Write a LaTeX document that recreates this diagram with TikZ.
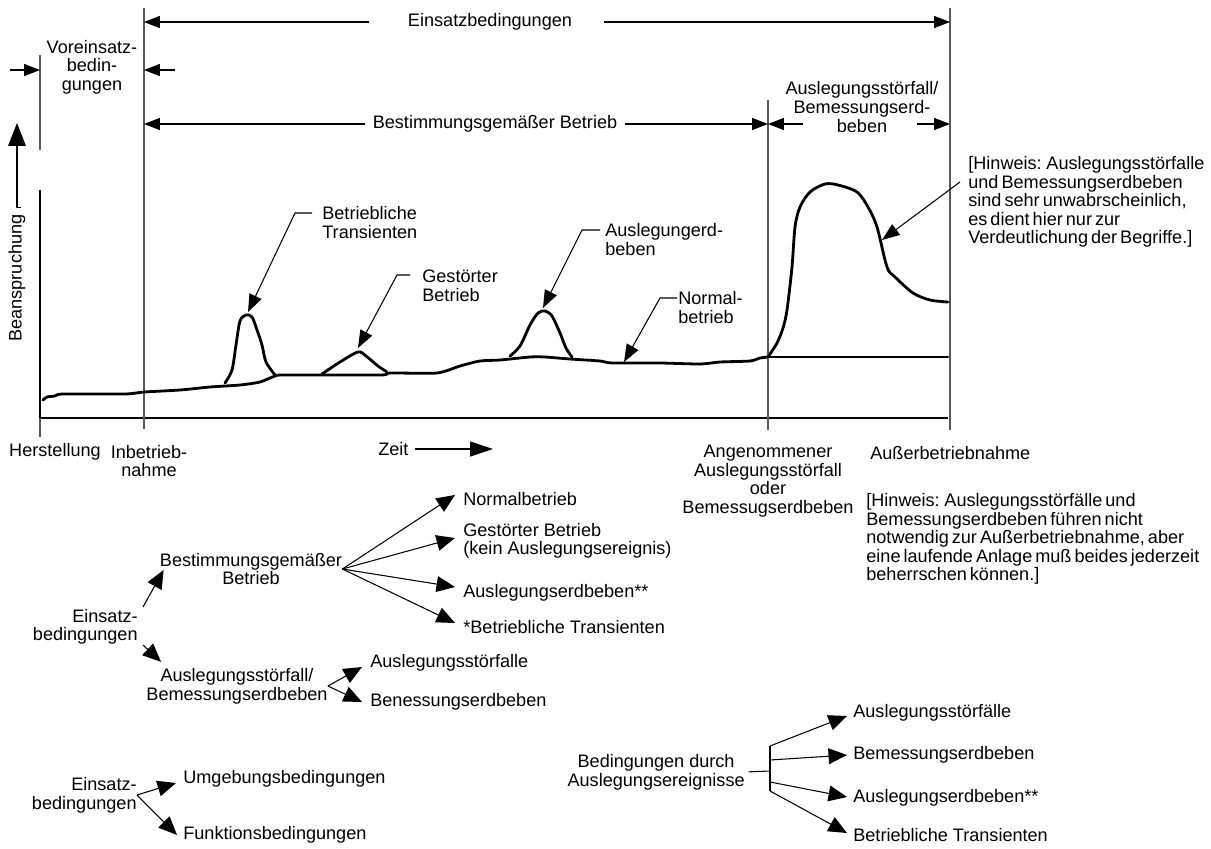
\documentclass[tikz,border=0pt]{standalone}
\usepackage{fontspec}
\setmainfont{Liberation Sans}
\newfontfamily\notefont[WordSpace=0.6]{Liberation Sans}
\usetikzlibrary{arrows.meta}

\tikzset{
  lbl/.style={inner sep=0pt, font=\fontsize{10.3}{10.6}\selectfont},
  note/.style={lbl, align=left, anchor=north west, font=\notefont\fontsize{10.3}{10.6}\selectfont},
  guide/.style={line width=0.8pt, draw=black!65},
  thinline/.style={line width=0.6pt},
  curve/.style={line width=1.6pt, line join=round, line cap=round},
  baseaxis/.style={line width=1.6pt},
  dimtip/.style={thinline, -{Triangle[length=9pt,width=6.8pt]}},
  leadtip/.style={thinline, -{Triangle[length=10pt,width=7.5pt]}},
  bigtip/.style={thinline, -{Triangle[length=10.5pt,width=9pt]}},
  zeittip/.style={thinline, -{Triangle[length=13pt,width=8.5pt]}},
  yatip/.style={thinline, -{Triangle[length=13pt,width=10pt]}},
}

\begin{document}
\begin{tikzpicture}[x=0.02cm,y=-0.02cm]
\path[use as bounding box] (0,0) rectangle (1211,849);

% axes and time marks
\draw[baseaxis] (40,190) -- (40,418) -- (948,418);
\draw[guide] (40,418) -- (40,437);
\draw[guide] (40,55) -- (40,150);
\draw[guide] (144,8) -- (144,429);
\draw[guide] (768,100) -- (768,430);
\draw[guide] (950,8) -- (950,430);

% stress history
\draw[curve] plot[smooth,tension=0.4] coordinates {(43,400) (47,397) (55,396) (63,394) (125,394)
  (144,392) (180,390) (210,387) (240,385) (260,382) (275,376) (285,375) (380,375) (390,373)
  (437,373) (460,366) (480,361) (500,360) (530,357) (545,357) (570,359) (600,361) (612,363)
  (660,363) (700,364) (720,362) (750,361) (760,358) (768,357)};
\draw[curve] (768,357) -- (948,357);
\draw[curve] plot[smooth,tension=0.5] coordinates {(225,383) (232,370) (236,345) (240,321)
  (246,315) (252,317) (257,330) (262,345) (266,362) (275,375)};
\draw[curve] plot[smooth,tension=0.5] coordinates {(322,374) (340,362) (358,352) (366,356)
  (378,366) (387,372)};
\draw[curve] plot[smooth,tension=0.5] coordinates {(510,356) (520,346) (530,325) (538,313)
  (545,311) (552,316) (560,333) (566,348) (572,357)};
\draw[curve] plot[smooth,tension=0.5] coordinates {(768,357) (777,343) (783,328) (787,310)
  (792,267) (795,227) (800,207) (810,192) (825,184) (838,185) (857,192) (868,207) (877,227)
  (887,267) (895,277) (913,293) (930,300) (948,302)};

% periods
\node[lbl] (tEin) at (490,22) {Einsatzbedingungen};
\coordinate (e1) at (144,22);
\coordinate (e2) at (950,22);
\draw[dimtip, shorten <=22pt] (tEin) -- (e1);
\draw[dimtip, shorten <=18pt] (tEin) -- (e2);

\node[lbl, align=center] (tVor) at (92,67) {Voreinsatz-\\bedin-\\gungen};
\coordinate (v1) at (10,70);
\coordinate (v2) at (40,70);
\coordinate (v3) at (175,70);
\coordinate (v4) at (144,70);
\draw[dimtip] (v1) -- (v2);
\draw[dimtip] (v3) -- (v4);

\node[lbl] (tBest) at (495,124) {Bestimmungsgemäßer Betrieb};
\coordinate (b1) at (144,124);
\coordinate (b2) at (768,124);
\coordinate (b3) at (803,124);
\coordinate (b4) at (917,124);
\coordinate (b5) at (950,124);
\draw[dimtip, shorten <=4pt] (tBest) -- (b1);
\draw[dimtip, shorten <=4pt] (tBest) -- (b2);
\draw[dimtip] (b3) -- (b2);
\draw[dimtip] (b4) -- (b5);
\node[lbl, align=center] (tAusl) at (862,107) {Auslegungsstörfall/\\Bemessungserd-\\beben};

% stress axis label
\node[lbl, rotate=90] (tBea) at (17,278) {Beanspruchung};
\coordinate (ya) at (17,123);
\draw[yatip] ([shift={(4,-7)}]tBea.east) -- ++(-4,0) -- (ya);

% peak labels
\coordinate (pk1) at (248,312);
\coordinate (pk2) at (358,348);
\coordinate (pk3) at (543,308);
\coordinate (pk4) at (624,362);
\coordinate (pk5) at (882,240);
\node[lbl, align=left, anchor=north west] (tTra) at (322,206) {Betriebliche\\Transienten};
\draw[leadtip] ([shift={(-10,7)}]tTra.north west) -- ++(-17,0) -- (pk1);
\node[lbl, align=left, anchor=north west] (tGes) at (422,270) {Gestörter\\Betrieb};
\draw[leadtip] ([shift={(-12,5)}]tGes.north west) -- ++(-13,0) -- (pk2);
\node[lbl, align=left, anchor=north west] (tErd) at (605,223) {Auslegungerd-\\beben};
\draw[leadtip] ([shift={(-5,7)}]tErd.north west) -- ++(-18,0) -- (pk3);
\node[lbl, align=left, anchor=north west] (tNor) at (678,291) {Normal-\\betrieb};
\draw[leadtip] ([shift={(-1,7)}]tNor.north west) -- ++(-17,0) -- (pk4);
\node[note] (tHin1) at (968,156) {[Hinweis: Auslegungsstörfalle\\und Bemessungserdbeben\\sind sehr unwabrscheinlich,\\es dient hier nur zur\\Verdeutlichung der Begriffe.]};
\draw[leadtip] ([shift={(-8,26)}]tHin1.north west) -- (pk5);

% time axis labels
\node[lbl] (tHer) at (55,452) {Herstellung};
\node[lbl, align=center] (tInb) at (149,461) {Inbetrieb-\\nahme};
\node[lbl, anchor=west] (tZeit) at (378,449) {Zeit};
\coordinate (zt) at (493,449);
\draw[zeittip, shorten <=3.5pt] (tZeit) -- (zt);
\node[lbl, align=center] (tAng) at (768,481) {Angenommener\\Auslegungsstörfall\\oder\\Bemessugserdbeben};
\node[lbl, anchor=west] (tAus) at (870,453) {Außerbetriebnahme};
\node[note] (tHin2) at (866,493) {[Hinweis: Auslegungsstörfälle und\\Bemessungserdbeben führen nicht\\notwendig zur Außerbetriebnahme, aber\\eine laufende Anlage muß beides jederzeit\\beherrschen können.]};

% tree: Einsatzbedingungen
\node[lbl, align=right, anchor=east] (tE1) at (138,627) {Einsatz-\\bedingungen};
\node[lbl, align=center] (tBG) at (251,569) {Bestimmungsgemäßer\\Betrieb};
\node[lbl, align=center] (tAB) at (237,686) {Auslegungsstörfall/\\Bemessungserdbeben};
\draw[bigtip] ([shift={(5,-20)}]tE1.east) -- ([shift={(4,1)}]tBG.west);
\draw[bigtip] ([shift={(5,18)}]tE1.east) -- ([shift={(15,-6)}]tAB.north west);

\node[lbl, anchor=west] (tN) at (463,499) {Normalbetrieb};
\node[lbl, anchor=west, align=left] (tG) at (463,541) {Gestörter Betrieb\\(kein Auslegungsereignis)};
\node[lbl, anchor=west] (tAE) at (463,593) {Auslegungserdbeben**};
\node[lbl, anchor=west] (tBTr) at (463,627) {*Betriebliche Transienten};
\foreach \t/\dy in {tN/-4,tG/-3,tAE/-6,tBTr/-4}
  \draw[bigtip] (tBG.east) -- ([shift={(-8,\dy)}]\t.west);

\node[lbl, anchor=west] (tAS) at (370,663) {Auslegungsstörfalle};
\node[lbl, anchor=west] (tBE) at (370,702) {Benessungserdbeben};
\draw[bigtip] (tAB.east) -- ([shift={(-8,4)}]tAS.west);
\draw[bigtip] (tAB.east) -- ([shift={(-8,0)}]tBE.west);

% tree: Umgebung / Funktion
\node[lbl, align=right, anchor=east] (tE2) at (137,795) {Einsatz-\\bedingungen};
\node[lbl, anchor=west] (tU) at (183,779) {Umgebungsbedingungen};
\node[lbl, anchor=west] (tF) at (183,835) {Funktionsbedingungen};
\draw[bigtip] (tE2.east) -- ([shift={(-7,4)}]tU.west);
\draw[bigtip] (tE2.east) -- ([shift={(-6,0)}]tF.west);

% tree: Auslegungsereignisse
\node[lbl, align=center, anchor=east] (tBD) at (745,772) {Bedingungen durch\\Auslegungsereignisse};
\coordinate (fk) at (770,771);
\draw[thinline, shorten <=2pt] (tBD.east) -- (fk);
\draw[thinline] (770,746) -- (770,791);
\node[lbl, anchor=west] (tS1) at (853,713) {Auslegungsstörfälle};
\node[lbl, anchor=west] (tS2) at (853,755) {Bemessungserdbeben};
\node[lbl, anchor=west] (tS3) at (853,798) {Auslegungserdbeben**};
\node[lbl, anchor=west] (tS4) at (853,835) {Betriebliche Transienten};
\foreach \s/\y/\dy in {tS1/746/3,tS2/760/0,tS3/782/-1,tS4/791/-2}
  \draw[bigtip] (770,\y) -- ([shift={(-6,\dy)}]\s.west);
\end{tikzpicture}
\end{document}
